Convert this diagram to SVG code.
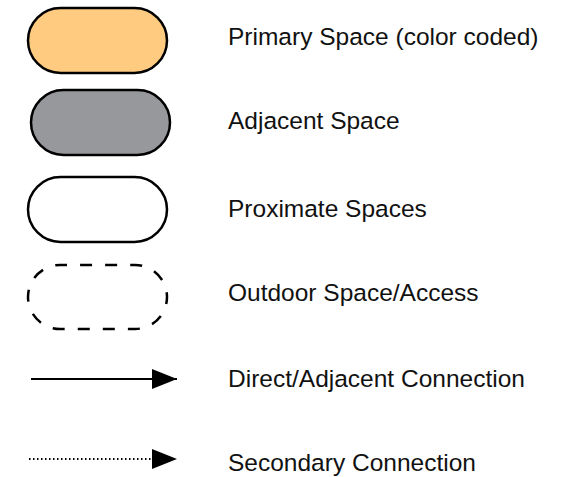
<svg xmlns="http://www.w3.org/2000/svg" width="569" height="477" viewBox="0 0 569 477">
<style>
.shape{stroke:#000;stroke-width:2.5}
.lbl{font-family:"Liberation Sans",Arial,sans-serif;font-size:24.5px;fill:#111}
.conn{stroke:#000;stroke-width:2.2;fill:none}
</style>
<defs>
<marker id="ah" markerWidth="25" markerHeight="20" refX="25" refY="10" orient="auto" markerUnits="userSpaceOnUse">
<path d="M0,0 L25,10 L0,20 Z" fill="#000"/>
</marker>
</defs>
<rect width="569" height="477" fill="#fff"/>
<g id="primary">
<rect class="shape" x="28" y="8" width="139" height="65" rx="32.5" fill="#fecb81"/>
<text class="lbl" x="228" y="45">Primary Space (color coded)</text>
</g>
<g id="adjacent">
<rect class="shape" x="31" y="90" width="139" height="65" rx="32.5" fill="#97989b"/>
<text class="lbl" x="228" y="129">Adjacent Space</text>
</g>
<g id="proximate">
<rect class="shape" x="28" y="177" width="139" height="65" rx="32.5" fill="#fff"/>
<text class="lbl" x="228" y="216.5">Proximate Spaces</text>
</g>
<g id="outdoor">
<rect class="shape" x="28" y="265" width="139" height="64" rx="32" fill="none" stroke-dasharray="12,13.07" stroke-dashoffset="5"/>
<text class="lbl" x="228" y="301">Outdoor Space/Access</text>
</g>
<g id="connectors">
<line class="conn" x1="31" y1="379" x2="177" y2="379" marker-end="url(#ah)"/>
<line class="conn" x1="29" y1="459" x2="177" y2="459" stroke-dasharray="1.5,2.5" marker-end="url(#ah)"/>
</g>
<g id="legend-labels">
<text class="lbl" x="228" y="387">Direct/Adjacent Connection</text>
<text class="lbl" x="228" y="471">Secondary Connection</text>
</g>
</svg>
